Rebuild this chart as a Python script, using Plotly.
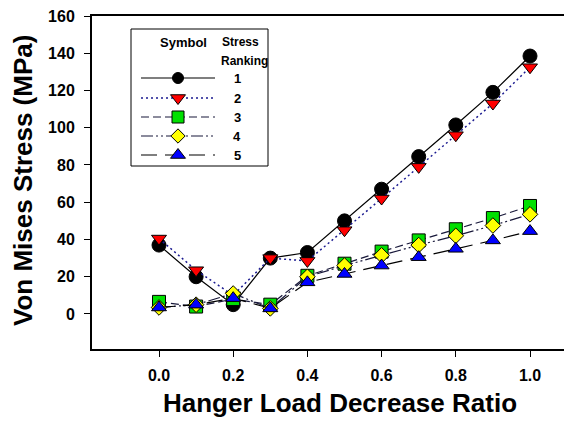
import plotly.graph_objects as go

# ---- data ----
ratio = [0.0, 0.1, 0.2, 0.3, 0.4, 0.5, 0.6, 0.7, 0.8, 0.9, 1.0]
rank1 = [37, 20, 5, 30, 33, 50, 67, 84.5, 101.5, 119, 138.5]
rank2 = [40.5, 23.5, 10, 30, 28.5, 45, 62, 79, 96, 113, 132.5]
rank3 = [6.5, 4, 8, 5, 20.5, 27, 33.5, 39.5, 45.5, 51.5, 58]
rank4 = [3.5, 5, 11, 3, 20, 26, 31.5, 37, 42, 47.5, 53.5]
rank5 = [3.5, 5, 8.5, 3, 17, 21.5, 26, 30.5, 35, 39.5, 44.5]
series_names = ["1", "2", "3", "4", "5"]
x_ticks = [0.0, 0.2, 0.4, 0.6, 0.8, 1.0]
x_tick_labels = ["0.0", "0.2", "0.4", "0.6", "0.8", "1.0"]
y_ticks = [0, 20, 40, 60, 80, 100, 120, 140, 160]

# ---- styling ----
W, H = 564, 426
ML, MR, MT, MB = 92, 0, 16, 77
PW, PH = W - ML - MR, H - MT - MB
FONT = "Liberation Sans, Arial, sans-serif"

styles = [
    dict(symbol="circle", color="black", size=14, lsize=11, dash="solid", lcolor="black", lw=1.2),
    dict(symbol="triangle-down", color="red", size=13, lsize=13, dash="2px,3px", lcolor="#1a1a90", lw=1.5),
    dict(symbol="square", color="#00e000", size=13, lsize=12, dash="8px,4px", lcolor="#18183a", lw=1.2),
    dict(symbol="diamond", color="yellow", size=12, lsize=11, dash="12px,3px,2px,3px,2px,3px", lcolor="#18183a", lw=1.2),
    dict(symbol="triangle-up", color="#0000ff", size=13, lsize=13, dash="16px,8px", lcolor="black", lw=1.2),
]
data = [rank1, rank2, rank3, rank4, rank5]

fig = go.Figure()
for name, ys, st in zip(series_names, data, styles):
    fig.add_trace(go.Scatter(
        x=ratio, y=ys, mode="lines+markers", name=name,
        line=dict(color=st["lcolor"], width=st["lw"], dash=st["dash"]),
        marker=dict(symbol=st["symbol"], size=st["size"], color=st["color"],
                    line=dict(color="black", width=1)),
        showlegend=False,
    ))

# ---- custom legend (pixel-like overlay axes) ----
leg_rows = [62, 82, 101, 120, 139]
for name, st, ry in zip(series_names, styles, leg_rows):
    fig.add_trace(go.Scatter(
        x=[49, 123], y=[ry, ry], mode="lines", xaxis="x2", yaxis="y2",
        line=dict(color=st["lcolor"], width=st["lw"], dash=st["dash"]),
        showlegend=False, hoverinfo="skip"))
    fig.add_trace(go.Scatter(
        x=[86], y=[ry], mode="markers", xaxis="x2", yaxis="y2",
        marker=dict(symbol=st["symbol"], size=st["lsize"], color=st["color"],
                    line=dict(color="black", width=1)),
        showlegend=False, hoverinfo="skip"))


def px(xp):
    return (xp - ML) / PW


def py(yp):
    return (H - MB - yp) / PH


annotations = []
bold = dict(family=FONT, size=12, color="black")
annotations.append(dict(x=px(183), y=py(42), xref="paper", yref="paper", text="<b>Symbol</b>",
                        showarrow=False, font=dict(family=FONT, size=13, color="black"),
                        xanchor="center", yanchor="middle"))
annotations.append(dict(x=px(220), y=py(42), xref="paper", yref="paper", text="<b>Stress</b>",
                        showarrow=False, font=bold, xanchor="left", yanchor="middle"))
annotations.append(dict(x=px(219), y=py(61), xref="paper", yref="paper", text="<b>Ranking</b>",
                        showarrow=False, font=bold, xanchor="left", yanchor="middle"))
for name, ry in zip(series_names, leg_rows):
    annotations.append(dict(x=px(237), y=py(ry + MT), xref="paper", yref="paper",
                            text="<b>%s</b>" % name, showarrow=False,
                            font=dict(family=FONT, size=13, color="black"),
                            xanchor="center", yanchor="middle"))
# axis titles
annotations.append(dict(x=px(340), y=py(403), xref="paper", yref="paper",
                        text="<b>Hanger Load Decrease Ratio</b>", showarrow=False,
                        font=dict(family=FONT, size=26, color="black"),
                        xanchor="center", yanchor="middle"))
annotations.append(dict(x=px(23), y=py(181), xref="paper", yref="paper",
                        text="<b>Von Mises Stress (MPa)</b>", showarrow=False, textangle=-90,
                        font=dict(family=FONT, size=26, color="black"),
                        xanchor="center", yanchor="middle"))

shapes = [dict(type="rect", xref="paper", yref="paper",
               x0=px(131), x1=px(268), y0=py(166), y1=py(29),
               line=dict(color="black", width=1), fillcolor="white", layer="below")]

x0 = 0.0 - (159 - ML) / 371.0
x1 = 0.0 + (W - 159) / 371.0

fig.update_layout(
    width=W, height=H,
    margin=dict(l=ML, r=MR, t=MT, b=MB, pad=0, autoexpand=False),
    paper_bgcolor="white", plot_bgcolor="white",
    font=dict(family=FONT, color="black"),
    showlegend=False,
    xaxis=dict(range=[x0, x1], tickvals=x_ticks, ticktext=["<b>%s</b>" % t for t in x_tick_labels],
               ticks="outside", ticklen=6, tickwidth=1, tickcolor="black",
               showline=True, linewidth=2, linecolor="black", mirror=True,
               showgrid=False, zeroline=False, ticklabelstandoff=5, automargin=False,
               tickfont=dict(family=FONT, size=16, color="black")),
    yaxis=dict(range=[-18.8, 160], tickvals=y_ticks, ticktext=["<b>%d</b>" % v for v in y_ticks],
               ticks="outside", ticklen=6, tickwidth=1, tickcolor="black",
               showline=True, linewidth=2, linecolor="black", mirror=False,
               showgrid=False, zeroline=False, ticklabelstandoff=6, automargin=False,
               tickfont=dict(family=FONT, size=16, color="black")),
    xaxis2=dict(range=[0, PW], overlaying="x", anchor="y2", visible=False, fixedrange=True),
    yaxis2=dict(range=[PH, 0], overlaying="y", anchor="x2", visible=False, fixedrange=True),
    annotations=annotations,
    shapes=shapes,
)

fig.write_html(
    "out.html",
    config={"displayModeBar": False},
    post_script="document.body.style.margin='0';document.body.style.overflow='hidden';",
)
